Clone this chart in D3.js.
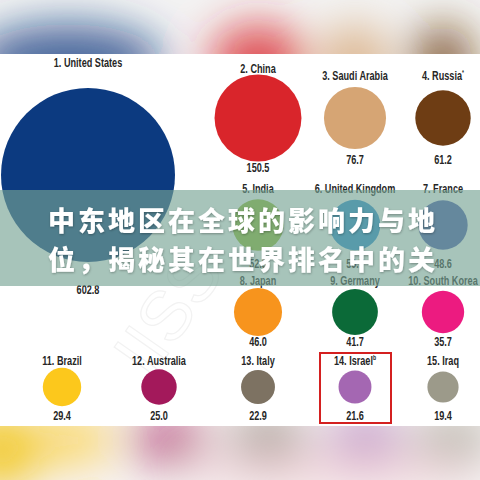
<!DOCTYPE html>
<html>
<head>
<meta charset="utf-8">
<title>military spending circles</title>
<script src="https://d3js.org/d3.v7.min.js"></script>
<style>
  body { margin: 0; background: #fff; }
  .lbl { font-family: "Liberation Sans", Arial, sans-serif; font-weight: bold; fill: #262626; font-size: 12.5px; }
  .banner { font-family: "Noto Sans CJK SC", sans-serif; font-weight: 900; fill: #fff; font-size: 27px; letter-spacing: 3px; }
</style>
</head>
<body>
<script>
// data
const countries = ["United States", "China", "Saudi Arabia", "Russia", "India", "United Kingdom", "France",
  "Japan", "Germany", "South Korea", "Brazil", "Australia", "Italy", "Israel", "Iraq"];
const notes = ["", "", "", "*", "", "", "", "", "", "", "", "", "", "b", ""];
const spending = [602.8, 150.5, 76.7, 61.2, 52.5, 50.7, 48.6, 46.0, 41.7, 35.7, 29.4, 25.0, 22.9, 21.6, 19.4];
const colors = ["#0c3a80", "#d9252b", "#d6a574", "#6e3d14", "#92bc32", "#288dd3", "#4a5ab0",
  "#f7941d", "#0b6a38", "#ec1b80", "#fcc81c", "#a3195b", "#7d7262", "#a467b2", "#9c9a8a"];
const highlight = "Israel";
const banner = ["中东地区在全球的影响力与地", "位，揭秘其在世界排名中的关"];

const W = 480, H = 480;
const squeeze = 0.73;
const svg = d3.select("body").append("svg").attr("width", W).attr("height", H);
const defs = svg.append("defs");
defs.append("filter").attr("id", "blur").attr("x", "-50%").attr("y", "-50%").attr("width", "200%").attr("height", "200%")
  .append("feGaussianBlur").attr("stdDeviation", 22);
defs.append("clipPath").attr("id", "topClip").append("rect").attr("width", W).attr("height", 54);
defs.append("clipPath").attr("id", "botClip").append("rect").attr("y", 426).attr("width", W).attr("height", 54);
const sh = defs.append("filter").attr("id", "shadow");
sh.append("feDropShadow").attr("dx", 0.5).attr("dy", 1).attr("stdDeviation", 1).attr("flood-color", "#000").attr("flood-opacity", 0.3);

const r = d3.scaleSqrt().domain([0, d3.max(spending)]).range([0, 87]);

// layout: grid for ranks 2..15
const colX = [62, 159, 258, 355, 443];
const rowCy = [118, 225, 312, 387];
const rowLabelY = [77, 190, 282, 362];
const rowValueY = [161, 265, 343, 417];

const items = countries.map((c, i) => {
  const d = { name: c, note: notes[i], value: spending[i], color: colors[i], rank: i + 1 };
  if (i === 0) { d.x = 88; d.cy = 175; d.ly = 64; d.vy = 291; return d; }
  let row, col;
  if (i <= 9) { row = Math.floor((i - 1) / 3); col = 2 + (i - 1) % 3; }
  else { row = 3; col = i - 10; }
  d.x = colX[col]; d.cy = rowCy[row];
  d.ly = Math.min(rowLabelY[row], d.cy - r(d.value) - 5);
  d.vy = Math.max(rowValueY[row], d.cy + r(d.value) + 7);
  return d;
});

// blurred reflections at top and bottom
const topBand = svg.append("g").attr("clip-path", "url(#topClip)");
topBand.append("rect").attr("width", W).attr("height", 54).attr("fill", "#f3f3f3");
const tb = topBand.append("g").attr("filter", "url(#blur)");
items.slice(0, 4).forEach(d => {
  tb.append("ellipse").attr("cx", d.x - (d.rank === 1 ? 20 : 0)).attr("cy", 62).attr("rx", r(d.value) * 1.1).attr("ry", 38)
    .attr("fill", d.color).attr("opacity", d.rank === 1 ? 0.75 : 0.8);
});
const botBand = svg.append("g").attr("clip-path", "url(#botClip)");
botBand.append("rect").attr("y", 426).attr("width", W).attr("height", 54).attr("fill", "#f7f3f3");
const bb = botBand.append("g").attr("filter", "url(#blur)");
items.slice(10).forEach(d => {
  bb.append("ellipse").attr("cx", d.x + 10).attr("cy", 440).attr("rx", 40).attr("ry", 28)
    .attr("fill", d.color).attr("opacity", 0.6);
});
bb.append("ellipse").attr("cx", 330).attr("cy", 470).attr("rx", 150).attr("ry", 20).attr("fill", "#f0c8d0").attr("opacity", 0.6);
bb.append("ellipse").attr("cx", 0).attr("cy", 450).attr("rx", 40).attr("ry", 40).attr("fill", "#f2c81c").attr("opacity", 0.9);

// faint watermark
svg.append("text").attr("x", 150).attr("y", 380).attr("transform", "rotate(-55,150,380)")
  .attr("font-family", "Liberation Sans, sans-serif").attr("font-size", 70).attr("fill", "none")
  .attr("stroke", "#f2f2f2").attr("stroke-width", 1.2).text("IISS");

const g = svg.append("g").selectAll("g").data(items).join("g");
g.append("circle").attr("cx", d => d.x).attr("cy", d => d.cy).attr("r", d => r(d.value)).attr("fill", d => d.color);
// condensed look: horizontal squeeze of label glyphs
const lt = g.append("text").attr("class", "lbl")
  .attr("transform", d => `translate(${d.x},${d.ly}) scale(${squeeze},1)`)
  .attr("text-anchor", "middle").attr("dominant-baseline", "middle");
lt.append("tspan").text(d => `${d.rank}. ${d.name}`);
lt.filter(d => d.note).append("tspan").attr("font-size", 7).attr("dy", -4).text(d => d.note);
g.append("text").attr("class", "lbl")
  .attr("transform", d => `translate(${d.x},${d.vy}) scale(${squeeze},1)`)
  .attr("text-anchor", "middle").attr("dominant-baseline", "middle").text(d => d.value.toFixed(1));

// highlight box
const h = items.find(d => d.name === highlight);
svg.append("rect").attr("x", h.x - 35).attr("y", h.ly - 9).attr("width", 71).attr("height", h.vy - h.ly + 15)
  .attr("fill", "none").attr("stroke", "#d42020").attr("stroke-width", 2);

// banner overlay
svg.append("rect").attr("x", 0).attr("y", 190).attr("width", W).attr("height", 96).attr("fill", "rgba(118,163,147,0.64)");
svg.append("g").attr("filter", "url(#shadow)").selectAll("text").data(banner).join("text")
  .attr("class", "banner").attr("x", 48).attr("y", (d, i) => 231 + i * 39).text(d => d);
</script>
</body>
</html>
